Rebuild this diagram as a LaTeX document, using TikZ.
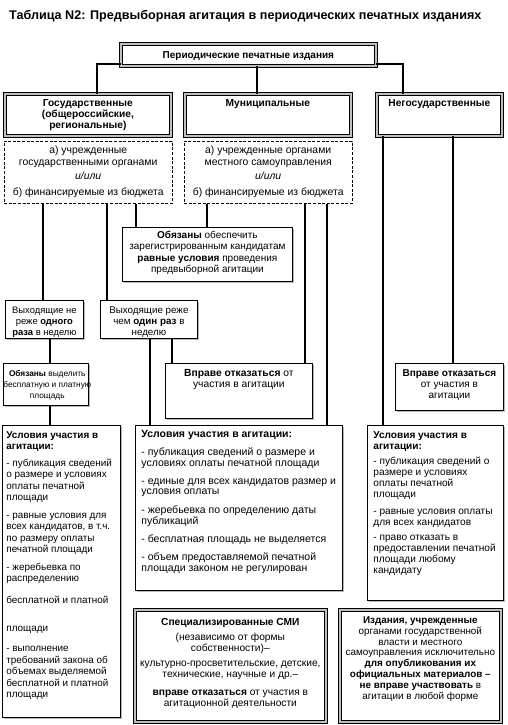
\documentclass[tikz,border=0pt]{standalone}
\usepackage{fontspec}
\setmainfont{Liberation Sans}
\usetikzlibrary{shadows}
% #1 width, #2 height, #3 top pad, #4 alignment (c or l), #5 lines
\newcommand\boxtext[5]{\parbox[c][#2][t]{#1}{\vskip#3\relax
  \ifx c#4\centering\else\raggedright\fi
  \begin{tabular}{@{}#4@{}}#5\end{tabular}\par}}
\begin{document}
\begin{tikzpicture}[
  x=1pt, y=-1pt,
  every node/.style={font=\fontsize{10.2}{11}\selectfont, inner sep=0pt, anchor=north west},
  frame/.style={draw=black, line width=0.7pt, double=gray!50, double distance=2.2pt, fill=white},
  dashbox/.style={draw=black, line width=1.4pt, dash pattern=on 3pt off 1.6pt, fill=white},
  plain/.style={draw=black, line width=0.8pt, fill=white,
    general shadow={fill=gray!55, shadow xshift=1.3pt, shadow yshift=-1.3pt}},
  conn/.style={line width=2.7pt},
]
\path[use as bounding box, fill=white] (0,0) rectangle (507,725);

\node[anchor=base west, font=\fontsize{12.6}{14}\selectfont\bfseries] (title) at (9,19.5)
  {Таблица N2: Предвыборная агитация в периодических печатных изданиях};

% level 1
\node[frame, font=\fontsize{10}{11}\selectfont\bfseries] (top) at (120.5,43.5) {\boxtext{255pt}{22pt}{7pt}{c}{Периодические печатные издания}};

% level 2
\node[frame, font=\fontsize{10.2}{11}\selectfont\bfseries] (gos) at (4.5,93.5) {\boxtext{166pt}{42pt}{5pt}{c}{Государственные\\(общероссийские,\\региональные)}};
\node[frame, font=\fontsize{10.2}{11}\selectfont\bfseries] (mun) at (184.5,93.5) {\boxtext{166pt}{42pt}{5pt}{c}{Муниципальные}};
\node[frame, font=\fontsize{10.2}{11}\selectfont\bfseries] (neg) at (376.5,93.5) {\boxtext{125pt}{42pt}{5pt}{c}{Негосударственные}};

\node[dashbox, font=\fontsize{10.4}{11.5}\selectfont] (gosd) at (3.5,140.5) {\boxtext{168pt}{62pt}{4.5pt}{c}{а) учрежденные\\государственными органами\\[3pt]\textit{и/или}\\[4pt]б) финансируемые из бюджета}};
\node[dashbox, font=\fontsize{10.4}{11.5}\selectfont] (mund) at (183.5,140.5) {\boxtext{168pt}{62pt}{4.5pt}{c}{а) учрежденные органами\\местного самоуправления\\[3pt]\textit{и/или}\\[4pt]б) финансируемые из бюджета}};

% middle
\node[plain, font=\fontsize{10}{11.5}\selectfont] (obesp) at (122,227) {\boxtext{170pt}{54pt}{3pt}{c}{\textbf{Обязаны} обеспечить\\зарегистрированным кандидатам\\\textbf{равные условия} проведения\\предвыборной агитации}};
\node[plain, font=\fontsize{9.4}{11.3}\selectfont] (vyh1) at (5,300) {\boxtext{78pt}{38pt}{5pt}{c}{Выходящие не\\реже \textbf{одного}\\\textbf{раза} в неделю}};
\node[plain, font=\fontsize{9.8}{11.3}\selectfont] (vyh2) at (100,300) {\boxtext{97pt}{38pt}{5pt}{c}{Выходящие реже\\чем \textbf{один раз} в\\неделю}};
\node[plain, font=\fontsize{8.3}{11.3}\selectfont] (obvyd) at (3,363) {\boxtext{85pt}{42pt}{5pt}{c}{\textbf{Обязаны} выделить\\бесплатную и платную\\площадь}};
\node[plain, font=\fontsize{10.3}{11.5}\selectfont] (vprm) at (165,363) {\boxtext{147pt}{55pt}{5pt}{c}{\textbf{Вправе отказаться} от\\участия в агитации}};
\node[plain, font=\fontsize{10}{11.2}\selectfont] (vprr) at (395,363) {\boxtext{108pt}{47pt}{5pt}{c}{\textbf{Вправе отказаться}\\от участия в\\агитации}};

% conditions
\node[plain, inner xsep=4pt, font=\fontsize{9.9}{11.5}\selectfont] (uslL) at (2,425) {\boxtext{110pt}{292pt}{5pt}{l}{%
\textbf{Условия участия в}\\\textbf{агитации:}\\[5pt]
- публикация сведений\\о размере и условиях\\оплаты печатной\\площади\\[6pt]
- равные условия для\\всех кандидатов, в т.ч.\\по размеру оплаты\\печатной площади\\[6pt]
- жеребьевка по\\распределению\\[10.5pt]
бесплатной и платной\\[16.5pt]
площади\\[8.5pt]
- выполнение\\требований закона об\\объемах выделяемой\\бесплатной и платной\\площади}};
\node[plain, inner xsep=6pt, font=\fontsize{10.5}{10.7}\selectfont] (uslM) at (135,425) {\boxtext{195pt}{165pt}{5pt}{l}{%
\textbf{Условия участия в агитации:}\\[6.3pt]
- публикация сведений о размере и\\условиях оплаты печатной площади\\[7.3pt]
- единые для всех кандидатов размер и\\условия оплаты\\[7.3pt]
- жеребьевка по определению даты\\публикаций\\[7.3pt]
- бесплатная площадь не выделяется\\[7.3pt]
- объем предоставляемой печатной\\площади законом не регулирован}};
\node[plain, inner xsep=6pt, font=\fontsize{10.1}{11}\selectfont] (uslR) at (367,425) {\boxtext{124pt}{175pt}{5pt}{l}{%
\textbf{Условия участия в}\\\textbf{агитации:}\\[4pt]
- публикация сведений о\\размере и условиях\\оплаты печатной\\площади\\[6pt]
- равные условия оплаты\\для всех кандидатов\\[4pt]
- право отказать в\\предоставлении печатной\\площади любому\\кандидату}};

% bottom
\node[frame, inner xsep=3pt, font=\fontsize{10.2}{11}\selectfont] (smi) at (134.5,609.5) {\boxtext{185pt}{112pt}{8pt}{c}{%
\textbf{Специализированные СМИ}\\[4pt](независимо от формы\\собственности)–\\[4pt]культурно-просветительские, детские,\\технические, научные и др.–\\[7pt]\textbf{вправе отказаться} от участия в\\агитационной деятельности}};
\node[frame, inner xsep=2pt, font=\fontsize{9.9}{10.8}\selectfont] (izd) at (339.5,609.5) {\boxtext{157pt}{112pt}{6pt}{c}{%
\textbf{Издания, учрежденные}\\органами государственной\\власти и местного\\самоуправления исключительно\\\textbf{для опубликования их}\\\textbf{официальных материалов –}\\\textbf{не вправе участвовать} в\\агитации в любой форме}};

% x positions of connectors
\foreach \v in {43,50,97,107,136,150,172,207,257,305,327,383,403,453}
  \coordinate (x\v) at (\v,0);
\coordinate (hy) at (0,64);

\draw[conn] (top.south -| x257) -- (mun.north -| x257);
\draw[conn] (gos.north -| x97) |- (top.west |- hy);
\draw[conn] (neg.north -| x403) |- (top.east |- hy);

\draw[conn] (gosd.south -| x43) -- (vyh1.north -| x43);
\draw[conn] (gosd.south -| x107) -- (vyh2.north -| x107);
\draw[conn] (gosd.south -| x136) -- (obesp.north -| x136);
\draw[conn] (mund.south -| x207) -- (obesp.north -| x207);
\draw[conn] (mund.south -| x305) -- (vprm.north -| x305);
\draw[conn] (mund.south -| x327) -- (uslM.north -| x327);
\draw[conn] (neg.south -| x383) -- (uslR.north -| x383);
\draw[conn] (neg.south -| x453) -- (vprr.north -| x453);

\draw[conn] (vyh1.south -| x50) -- (obvyd.north -| x50);
\draw[conn] (obvyd.south -| x50) -- (uslL.north -| x50);
\draw[conn] (vyh2.south -| x150) -- (uslM.north -| x150);
\draw[conn] (vyh2.south -| x172) -- (vprm.north -| x172);
\end{tikzpicture}
\end{document}
